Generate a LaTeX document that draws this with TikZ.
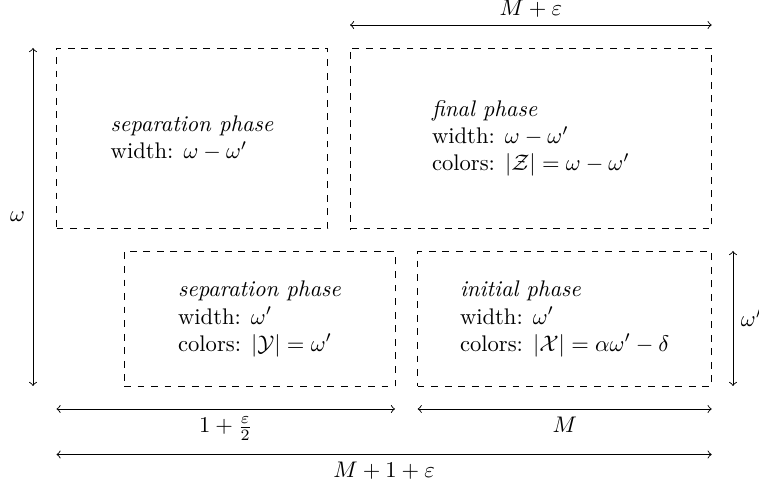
\documentclass[tikz,border=0pt]{standalone}
\usepackage{amsmath,amssymb}
\usetikzlibrary{fit}
\begin{document}
\begin{tikzpicture}[x=0.4425pt,y=-0.4425pt,
  phasebox/.style={draw,dashed,inner sep=0pt},
  phasetext/.style={align=left,inner sep=0pt},
  dimarrow/.style={<->}]
\useasboundingbox (0,0) rectangle (759,485);
% boxes
\node[phasebox,fit={(56.5,48) (327.7,228.7)}] (tl) {};
\node[phasebox,fit={(350,48) (711.7,228.7)}] (tr) {};
\node[phasebox,fit={(124,251.5) (395,386.5)}] (bl) {};
\node[phasebox,fit={(417.7,251.5) (711.7,386.5)}] (br) {};
% texts
\node[phasetext] (tltext) at (tl.center) {\textit{separation phase}\\width: $\omega-\omega'$};
\node[phasetext] (trtext) at (tr.center) {\textit{final phase}\\width: $\omega-\omega'$\\colors: $|\mathcal{Z}|=\omega-\omega'$};
\node[phasetext] (bltext) at (bl.center) {\textit{separation phase}\\width: $\omega'$\\colors: $|\mathcal{Y}|=\omega'$};
\node[phasetext] (brtext) at (br.center) {\textit{initial phase}\\width: $\omega'$\\colors: $|\mathcal{X}|=\alpha\omega'-\delta$};
% dimension coordinates
\coordinate (topA) at (350,25);
\coordinate (topB) at (711.7,25);
\coordinate (leftA) at (33,48);
\coordinate (leftB) at (33,386);
\coordinate (rightA) at (733,251);
\coordinate (rightB) at (733,386);
\coordinate (b1A) at (56.5,409);
\coordinate (b1B) at (395,409);
\coordinate (b2A) at (417.7,409);
\coordinate (b2B) at (711.7,409);
\coordinate (b3A) at (56.5,454.5);
\coordinate (b3B) at (711.7,454.5);
% arrows
\draw[dimarrow] (topA) -- node[above] (toplab) {$M+\varepsilon$} (topB);
\draw[dimarrow] (leftA) -- node[left] (leftlab) {$\omega$} (leftB);
\draw[dimarrow] (rightA) -- node[right] (rightlab) {$\omega'$} (rightB);
\draw[dimarrow] (b1A) -- node[below] (b1lab) {$1+\frac{\varepsilon}{2}$} (b1B);
\draw[dimarrow] (b2A) -- node[below] (b2lab) {$M$} (b2B);
\draw[dimarrow] (b3A) -- node[below] (b3lab) {$M+1+\varepsilon$} (b3B);
\end{tikzpicture}
\end{document}
